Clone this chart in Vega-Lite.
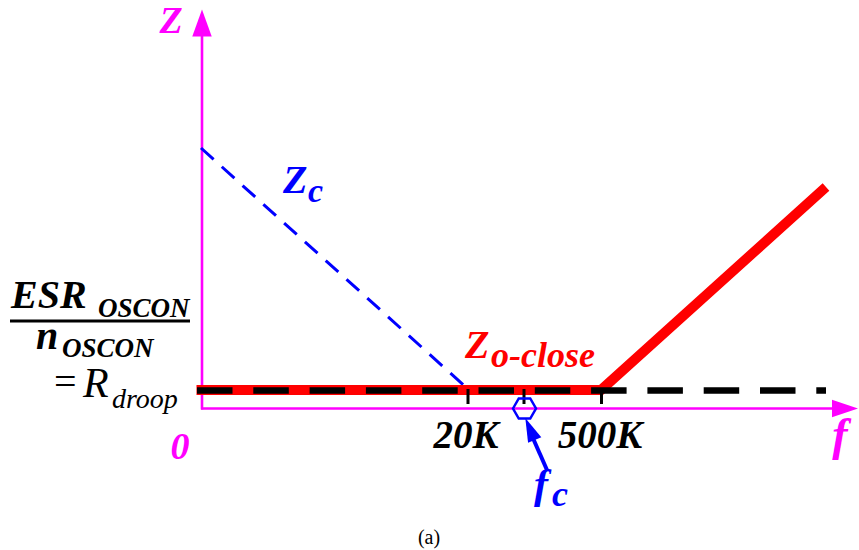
{
  "$schema": "https://vega.github.io/schema/vega-lite/v6.json",
  "autosize": {"type": "fit", "contains": "padding"},
  "width": 859,
  "height": 550,
  "padding": 0,
  "background": "white",
  "config": {"view": {"stroke": null}, "axis": {"disable": true}},
  "datasets": {
    "axes": [
      {"name": "Z", "x": 202, "y": 409.5, "x2": 202, "y2": 36},
      {"name": "f", "x": 201, "y": 408.5, "x2": 834, "y2": 408.5}
    ],
    "zc": [{"x": 201, "y": 148, "x2": 468, "y2": 389}],
    "zclose": [
      {"i": 0, "x": 196.5, "y": 390},
      {"i": 1, "x": 601, "y": 390},
      {"i": 2, "x": 826, "y": 187}
    ],
    "rdroop": [{"x": 197, "y": 390.5, "x2": 826, "y2": 390.5}],
    "ticks": [
      {"label": "20K", "x": 468, "y": 389, "y2": 404},
      {"label": "fc", "x": 524, "y": 389, "y2": 404},
      {"label": "500K", "x": 601.5, "y": 389, "y2": 404}
    ],
    "fraction": [{"x": 10, "y": 321, "x2": 190, "y2": 321}],
    "fcArrow": [{"x": 547, "y": 470, "x2": 532, "y2": 436}]
  },
  "encoding": {
    "x": {"field": "x", "type": "quantitative", "scale": {"domain": [0, 859], "nice": false, "zero": false}, "axis": null},
    "y": {"field": "y", "type": "quantitative", "scale": {"domain": [0, 550], "nice": false, "zero": false, "reverse": true}, "axis": null}
  },
  "layer": [
    {
      "data": {"name": "axes"},
      "mark": {"type": "rule", "color": "#FF00FF", "strokeWidth": 2.6},
      "encoding": {"x2": {"field": "x2"}, "y2": {"field": "y2"}}
    },
    {
      "data": {"values": [{"x": 202, "y": 23}]},
      "mark": {"type": "point", "shape": "M0,-1L0.72,1L-0.72,1Z", "size": 729, "filled": true, "color": "#FF00FF", "opacity": 1}
    },
    {
      "data": {"values": [{"x": 845, "y": 408.5}]},
      "mark": {"type": "point", "shape": "M1,0L-1,0.68L-1,-0.68Z", "size": 676, "filled": true, "color": "#FF00FF", "opacity": 1}
    },
    {
      "data": {"name": "zc"},
      "mark": {"type": "rule", "color": "#0000FF", "strokeWidth": 3, "strokeDash": [17, 11]},
      "encoding": {"x2": {"field": "x2"}, "y2": {"field": "y2"}}
    },
    {
      "data": {"name": "zclose"},
      "mark": {"type": "line", "color": "#FF0000", "strokeWidth": 10, "strokeJoin": "miter", "strokeCap": "butt"},
      "encoding": {"order": {"field": "i"}}
    },
    {
      "data": {"name": "rdroop"},
      "mark": {"type": "rule", "color": "black", "strokeWidth": 6.5, "strokeDash": [35.5, 20.8]},
      "encoding": {"x2": {"field": "x2"}, "y2": {"field": "y2"}}
    },
    {
      "data": {"name": "ticks"},
      "mark": {"type": "rule", "color": "black", "strokeWidth": 3},
      "encoding": {"y2": {"field": "y2"}}
    },
    {
      "data": {"name": "fraction"},
      "mark": {"type": "rule", "color": "black", "strokeWidth": 3},
      "encoding": {"x2": {"field": "x2"}, "y2": {"field": "y2"}}
    },
    {
      "data": {"values": [{"x": 524.5, "y": 408.5}]},
      "mark": {"type": "point", "shape": "M-1,0L-0.5,-0.87L0.5,-0.87L1,0L0.5,0.87L-0.5,0.87Z", "size": 529, "filled": false, "stroke": "#0000FF", "strokeWidth": 2.5, "opacity": 1}
    },
    {
      "data": {"name": "fcArrow"},
      "mark": {"type": "rule", "color": "#0000FF", "strokeWidth": 4},
      "encoding": {"x2": {"field": "x2"}, "y2": {"field": "y2"}}
    },
    {
      "data": {"values": [{"x": 530, "y": 429}]},
      "mark": {"type": "point", "shape": "M0,-1L0.6,1L-0.6,1Z", "size": 576, "angle": 337, "filled": true, "color": "#0000FF", "opacity": 1}
    },
    {
      "data": {"values": [{"t": "Z", "x": 171, "y": 33}, {"t": "0", "x": 180, "y": 459}]},
      "mark": {"type": "text", "font": "Liberation Serif", "fontSize": 38, "fontStyle": "italic", "fontWeight": "bold", "color": "#FF00FF", "align": "center", "baseline": "alphabetic"},
      "encoding": {"text": {"field": "t"}}
    },
    {
      "data": {"values": [{"t": "f", "x": 840, "y": 450}]},
      "mark": {"type": "text", "font": "Liberation Serif", "fontSize": 46, "fontStyle": "italic", "fontWeight": "bold", "color": "#FF00FF", "align": "center", "baseline": "alphabetic"},
      "encoding": {"text": {"field": "t"}}
    },
    {
      "data": {"values": [{"t": "20K", "x": 466, "y": 448}, {"t": "500K", "x": 600, "y": 448}]},
      "mark": {"type": "text", "font": "Liberation Serif", "fontSize": 39, "fontStyle": "italic", "fontWeight": "bold", "color": "black", "align": "center", "baseline": "alphabetic"},
      "encoding": {"text": {"field": "t"}}
    },
    {
      "data": {"values": [{"t": "Z", "x": 283, "y": 193}]},
      "mark": {"type": "text", "font": "Liberation Serif", "fontSize": 40, "fontStyle": "italic", "fontWeight": "bold", "color": "#0000FF", "align": "left", "baseline": "alphabetic"},
      "encoding": {"text": {"field": "t"}}
    },
    {
      "data": {"values": [{"t": "c", "x": 308, "y": 202}]},
      "mark": {"type": "text", "font": "Liberation Serif", "fontSize": 34, "fontStyle": "italic", "fontWeight": "bold", "color": "#0000FF", "align": "left", "baseline": "alphabetic"},
      "encoding": {"text": {"field": "t"}}
    },
    {
      "data": {"values": [{"t": "f", "x": 534, "y": 498}]},
      "mark": {"type": "text", "font": "Liberation Serif", "fontSize": 42, "fontStyle": "italic", "fontWeight": "bold", "color": "#0000FF", "align": "left", "baseline": "alphabetic"},
      "encoding": {"text": {"field": "t"}}
    },
    {
      "data": {"values": [{"t": "c", "x": 552, "y": 506}]},
      "mark": {"type": "text", "font": "Liberation Serif", "fontSize": 36, "fontStyle": "italic", "fontWeight": "bold", "color": "#0000FF", "align": "left", "baseline": "alphabetic"},
      "encoding": {"text": {"field": "t"}}
    },
    {
      "data": {"values": [{"t": "Z", "x": 465, "y": 358}]},
      "mark": {"type": "text", "font": "Liberation Serif", "fontSize": 40, "fontStyle": "italic", "fontWeight": "bold", "color": "#FF0000", "align": "left", "baseline": "alphabetic"},
      "encoding": {"text": {"field": "t"}}
    },
    {
      "data": {"values": [{"t": "o-close", "x": 491, "y": 367}]},
      "mark": {"type": "text", "font": "Liberation Serif", "fontSize": 36, "fontStyle": "italic", "fontWeight": "bold", "color": "#FF0000", "align": "left", "baseline": "alphabetic"},
      "encoding": {"text": {"field": "t"}}
    },
    {
      "data": {"values": [{"t": "ESR", "x": 11, "y": 308}, {"t": "n", "x": 36, "y": 349}]},
      "mark": {"type": "text", "font": "Liberation Serif", "fontSize": 40, "fontStyle": "italic", "fontWeight": "bold", "color": "black", "align": "left", "baseline": "alphabetic"},
      "encoding": {"text": {"field": "t"}}
    },
    {
      "data": {"values": [{"t": "OSCON", "x": 98, "y": 317}, {"t": "OSCON", "x": 62, "y": 357}]},
      "mark": {"type": "text", "font": "Liberation Serif", "fontSize": 27, "fontStyle": "italic", "fontWeight": "bold", "color": "black", "align": "left", "baseline": "alphabetic"},
      "encoding": {"text": {"field": "t"}}
    },
    {
      "data": {"values": [{"t": "=", "x": 54, "y": 395}]},
      "mark": {"type": "text", "font": "Liberation Serif", "fontSize": 40, "color": "black", "align": "left", "baseline": "alphabetic"},
      "encoding": {"text": {"field": "t"}}
    },
    {
      "data": {"values": [{"t": "R", "x": 83, "y": 397}]},
      "mark": {"type": "text", "font": "Liberation Serif", "fontSize": 42, "fontStyle": "italic", "color": "black", "align": "left", "baseline": "alphabetic"},
      "encoding": {"text": {"field": "t"}}
    },
    {
      "data": {"values": [{"t": "droop", "x": 112, "y": 408}]},
      "mark": {"type": "text", "font": "Liberation Serif", "fontSize": 28, "fontStyle": "italic", "color": "black", "align": "left", "baseline": "alphabetic"},
      "encoding": {"text": {"field": "t"}}
    },
    {
      "data": {"values": [{"t": "(a)", "x": 429, "y": 544}]},
      "mark": {"type": "text", "font": "Liberation Serif", "fontSize": 20, "color": "black", "align": "center", "baseline": "alphabetic"},
      "encoding": {"text": {"field": "t"}}
    }
  ]
}
